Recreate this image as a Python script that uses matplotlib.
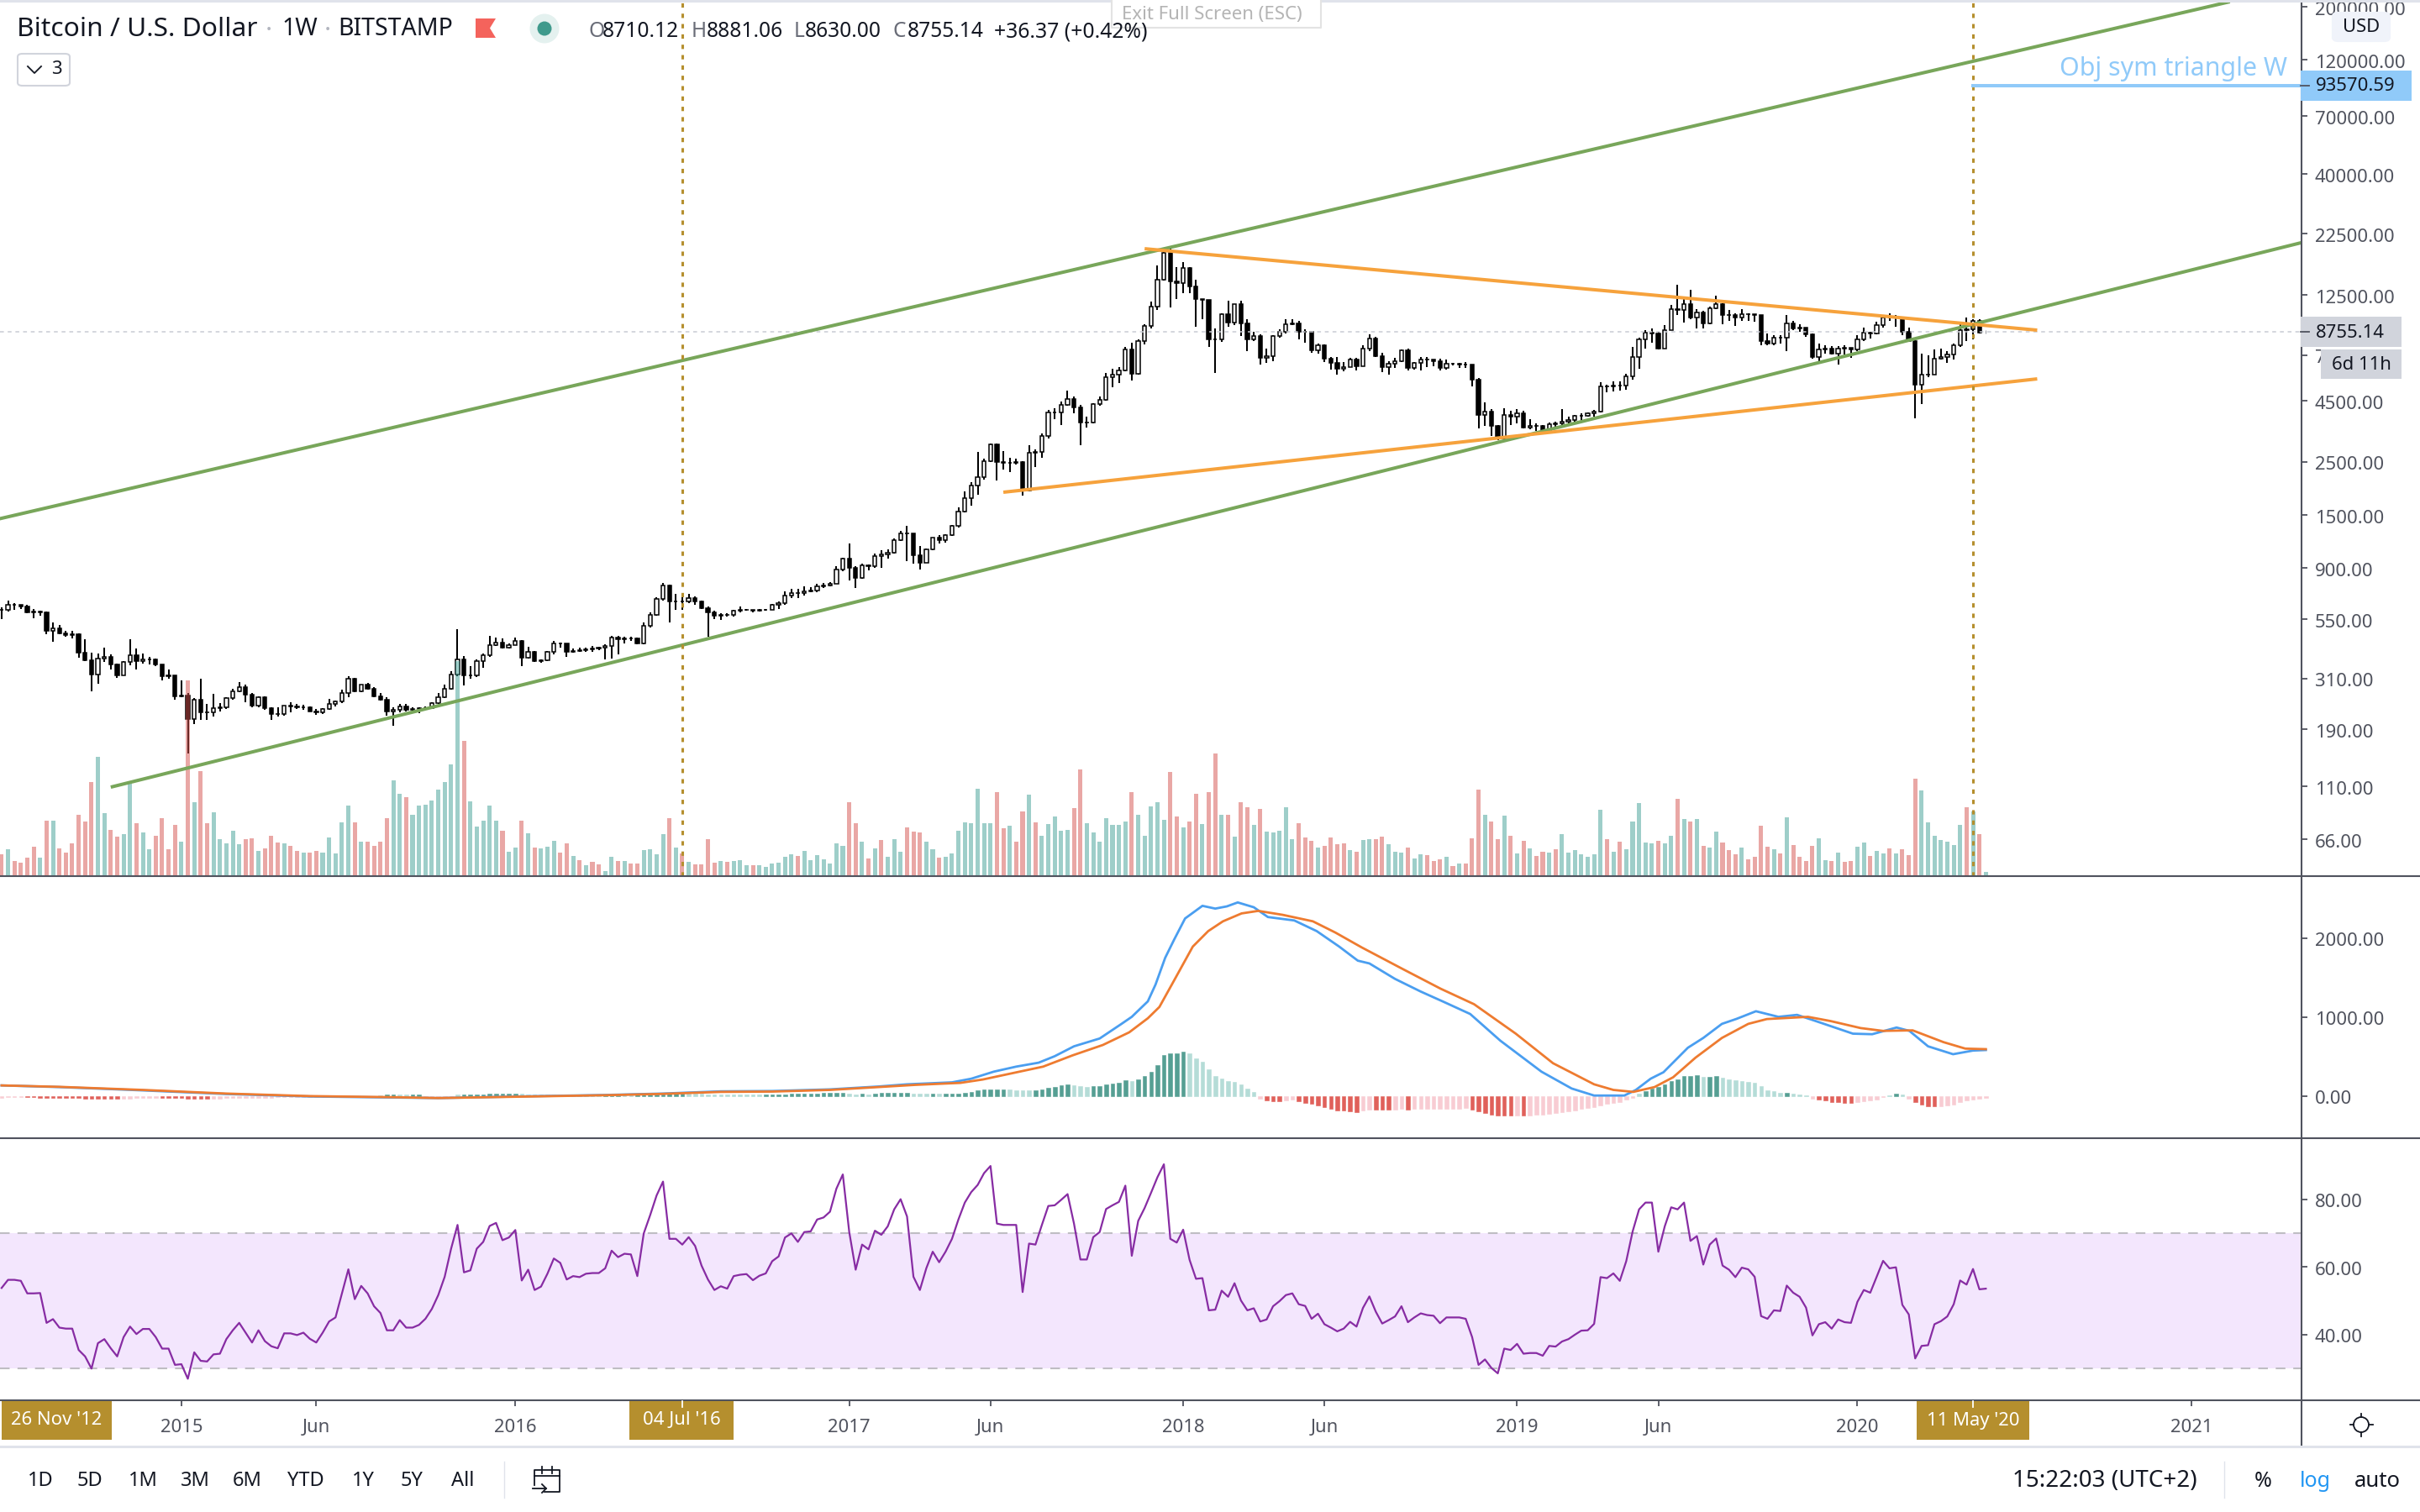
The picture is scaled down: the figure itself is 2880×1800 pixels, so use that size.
import numpy as np
import pandas as pd
import matplotlib
matplotlib.use('Agg')
import matplotlib.pyplot as plt
from matplotlib.lines import Line2D
from matplotlib.patches import Rectangle, FancyBboxPatch, Polygon, Circle
from matplotlib.ticker import FixedLocator, FixedFormatter, NullLocator
from matplotlib.transforms import ScaledTranslation

plt.rcParams['font.family'] = ['Noto Sans', 'DejaVu Sans']

W, H = 2880, 1800

# Weekly bars, first one is the week of 23 Jun 2014
start = pd.Timestamp('2014-06-23')

closes = [
    600,630,630,624,586,590,586,493,502,480, 472,475,398,371,322,375,384,356,319,363,
    389,366,373,374,356,318,319,262,264,211, 254,225,225,234,235,257,274,285,266,239,
    259,234,221,221,239,237,236,236,227,224, 231,243,249,270,311,274,293,281,262,254,
    227,230,238,229,232,233,234,245,260,281, 324,373,319,320,368,389,430,439,419,427,
    447,379,400,366,369,403,437,436,403,406, 408,410,416,418,424,461,453,457,457,435,
    515,571,670,758,654,652,655,672,650,613, 586,567,574,575,597,604,600,597,600,604,
    633,640,690,705,705,721,727,756,762,771, 885,987,903,818,927,920,1007,1023,1046,1174,
    1260,1260,1015,950,1077,1202,1174,1235,1347,1552, 1772,2000,2165,2525,2955,2494,2484,2484,2504,1902,
    2730,2761,3205,4040,4040,4335,4599,4218,3663,3663, 4370,4565,5660,5820,6053,7366,5865,8030,9250,11210,
    14470,18670,14200,13990,16148,13540,12030,11885,8120,8120, 10360,9580,11400,9510,8120,8380,6810,6945,8380,8770,
    9395,9510,8790,8770,7310,7720,6760,6500,6125,6245, 6680,6295,7425,8220,6945,6245,6420,6600,7310,6175,
    6500,6680,6680,6600,6175,6420,6420,6400,6400,5530, 3931,4060,3535,3130,3931,3855,4010,3494,3535,3535,
    3360,3605,3634,3690,3750,3885,3885,3985,4060,5174, 5174,5235,5215,5705,6880,8120,8690,8618,7450,8890,
    10906,10820,11430,10083,10570,9510,10990,11400,10290,10290, 10083,10400,10360,10290,8030,7810,8286,8286,9510,9035,
    9140,8520,6845,7366,7425,7082,7450,7520,7366,8120, 8690,8618,9321,10083,10083,10083,8770,8030,5270,5820,
    5820,6760,6845,7030,7720,8890,8963,9694,8719,8755.14,
]

highs = [
    615,658,641,633,633,606,598,593,534,520, 492,492,480,455,398,396,419,391,359,366,
    455,414,395,381,377,356,338,318,305,271, 257,309,244,268,246,259,281,299,294,271,
    261,261,235,235,240,247,243,241,238,232, 234,256,252,278,318,312,294,297,285,270,
    259,236,243,243,235,235,238,247,270,294, 333,498,386,349,372,395,467,459,457,435,
    459,451,421,405,373,405,445,438,436,414, 418,419,425,421,433,467,470,465,465,459,
    534,589,680,781,768,699,685,699,685,660, 621,597,581,581,600,621,607,600,607,609,
    638,652,718,738,735,756,747,771,777,786, 913,995,1142,920,938,931,1035,1068,1077,1197,
    1285,1347,1260,1111,1090,1211,1235,1245,1358,1613, 1880,2058,2761,2579,2986,2986,2783,2595,2585,2525,
    2930,2815,3295,4120,4210,4458,4975,4690,4335,3855, 4405,4690,5885,6125,6245,7600,7905,8160,9435,11705,
    16660,19470,19660,16340,17120,16280,14470,11960,11920,9070, 10486,11797,11480,11797,9885,8790,8520,7450,8450,8963,
    9885,9885,9694,8963,8618,7810,7780,6880,6845,6548, 6810,6810,7720,8520,8350,7140,6600,6810,7366,7425,
    6548,6845,6845,6655,6740,6680,6475,6475,6548,6400, 5596,4422,4170,3565,4210,4088,4170,4088,3780,3634,
    3565,3660,3675,4170,3855,3931,4010,4040,4120,5381, 5270,5425,5425,5865,7570,8286,8890,9035,8790,9321,
    11343,13802,12030,13120,10906,10700,11170,12370,11570,10820, 10486,10906,10486,10400,10083,8618,8450,8450,10290,9770,
    9395,9140,8618,7810,7720,7660,7660,7720,7425,8450, 9140,8790,9620,10290,10486,10290,10083,9140,8120,7082,
    7010,7366,7425,7280,7810,9510,10083,9885,9885,8881.06,
]

lows = [
    552,590,602,606,583,555,570,476,441,476, 463,457,379,366,274,295,363,340,313,319,
    354,340,359,357,351,305,309,254,260,151, 201,209,209,215,227,232,253,272,247,235,
    235,230,209,215,217,225,232,230,226,219, 221,230,237,246,260,272,272,278,259,252,
    218,197,224,227,222,222,231,235,243,258, 278,318,291,309,315,345,384,424,416,414,
    427,349,377,363,362,368,391,419,382,398, 400,402,402,408,373,377,391,436,445,433,
    433,506,567,656,534,600,600,640,632,607, 463,552,548,563,563,588,595,588,591,597,
    604,609,633,672,672,690,712,712,741,756, 771,875,802,741,809,878,903,903,987,1035,
    1165,965,938,885,950,1069,1138,1151,1226,1331, 1533,1638,1829,2115,2504,2098,2315,2269,2435,1815,
    1885,2390,2605,3140,3780,3580,4285,4010,2950,3494, 3634,4303,4510,5115,5340,6005,5490,5820,7750,9035,
    10820,14355,11120,12030,12760,12760,9210,9880,7570,5885, 7967,9210,9321,8380,7280,8030,6370,6475,6625,8286,
    8618,9321,8120,7900,7170,7082,6548,6100,5775,6005, 6220,6053,6295,7280,6845,5935,5820,6175,6548,6053,
    6100,6053,6245,6295,6053,6100,6345,6195,6195,5174, 3450,3535,3205,3080,3106,3565,3634,3450,3425,3385,
    3295,3310,3470,3565,3634,3660,3735,3855,3855,4040, 4880,4935,4975,5025,5530,6125,7450,7900,7366,7425,
    8890,10290,9580,9885,9035,9035,9395,10906,9435,9694, 9250,9694,9770,9620,7720,7720,7720,7810,7280,8890,
    8770,8350,6740,6500,7082,7030,6370,7030,6810,7280, 8030,8220,8520,9140,9694,9210,8450,7967,3810,4385,
    5660,5820,6680,6500,6680,7600,8030,8120,8618,8630,
]

# Open of the running bar from the header, the rest open at the previous close
last_open = 8710.12

volume = [
    79,97,55,49,67,106,67,199,199,100, 85,118,220,196,337,427,226,166,142,151,
    330,190,157,97,145,208,97,184,124,700, 265,376,190,229,133,118,163,115,133,136,
    91,100,145,121,118,109,91,85,85,91, 85,139,82,193,253,193,124,124,109,124,
    208,343,295,283,220,253,256,271,310,337, 400,767,484,268,178,199,253,199,163,88,
    103,199,154,103,100,106,127,85,118,73, 58,40,52,43,19,70,55,55,46,46,
    94,97,79,151,208,102,81,52,41,41, 132,48,54,51,54,57,39,39,39,33,
    46,49,70,78,73,90,57,76,60,45, 118,108,265,189,124,62,99,129,70,132,
    87,174,158,156,124,96,67,70,81,161, 192,189,313,189,189,300,172,180,124,231,
    291,192,144,186,214,161,166,243,381,189, 156,124,206,183,183,195,300,220,144,249,
    265,201,372,214,174,195,294,186,300,438, 220,220,141,265,246,183,240,158,156,161,
    246,132,189,138,125,102,108,138,113,118, 93,87,129,132,132,141,113,87,84,102,
    62,78,76,54,60,70,36,45,45,135, 310,220,195,132,217,144,81,126,99,73,
    87,84,96,150,84,93,78,70,78,237, 132,87,124,96,195,262,121,118,126,118,
    144,276,204,195,204,108,102,158,121,93, 78,102,60,70,180,105,96,81,209,110,
    70,54,108,135,57,54,84,51,54,105, 121,73,90,81,99,81,96,76,348,307,
    192,144,129,124,110,183,246,231,150,15,
]

# g / r colour of each volume bar
volume_dir = (
    'rgrrrrgrgr' 'rrrrrggrrg' 'grggrrrrgr' 'grrgggggrr' 'grrrgrrgrr' 'gggggrgrrr'
    'rggrgggggg' 'ggrgggggrg' 'grgrgggrrg' 'rgrrggrgrr' 'ggggrgrgrr' 'rrgrgggrgg'
    'ggggrggggg' 'ggrrgrgrgg' 'grrrggrggg' 'gggggrrgrr' 'grgggggrrg' 'ggggggrggg'
    'ggrrgrrgrr' 'grgrrgrggg' 'ggrrrgrrrr' 'grggrrgggr' 'ggrrrgrgrr' 'rgrrgrgrgr'
    'rgrggggggg' 'rgrgggggrg' 'grgrgrggrr' 'rgrrrrgrgr' 'rrrggrgrrg' 'grggrgrrrg'
    'ggggggrgrg'
)

# MACD pane, read at the bends of each line
macd_bar = [0,9,22,35,48,61,68,81,94,103,112,120,129,136.5,141,148,151,154.5,158,161.5,164,167,171,174.4,176,
            178.5,179.7,181.2,182.6,184.3,187,189,190.8,192.5,195,197.2,201.3,204.8,208.3,211.2,213,217,221,
            224.7,228.7,233.4,239.8,244.5,248,252.7,254.5,256.8,258.8,262.6,265,267.9,270.2,273.2,276.7,279.6,
            282.5,288.3,291.3,295.1,297.1,300,303.9,307,309]
macd_val = [135,114,72,26,-5,-18,-25,-4,14,32,60,64,85,121,149,174,220,309,373,423,505,630,729,914,1003,
            1199,1412,1750,1981,2248,2408,2373,2401,2451,2390,2266,2223,2088,1892,1714,1679,1483,1323,
            1188,1039,701,309,96,7,7,78,220,302,612,736,914,978,1074,1003,1028,
            950,790,783,868,825,630,530,576,583]
signal_bar = [0,9,22,35,48,61,68,81,94,103,112,120,129,136.5,142.3,149.3,152.8,162.2,166.8,171.5,175.6,178.5,
              180.3,182.6,185.5,187.9,190.2,193.1,195.7,199.5,204.2,207.7,211.8,218.2,224.1,229.3,235.8,241.6,
              248,251,254.1,257.4,260.3,263.8,267.9,272,274.9,281.3,284.8,289.5,293,297.6,302.4,305.8,309]
signal_val = [135,117,78,32,0,-14,-25,-7,11,28,53,57,78,114,142,167,210,373,516,647,807,985,
              1128,1465,1892,2088,2212,2312,2344,2294,2212,2070,1882,1608,1359,1163,790,416,
              149,78,53,114,238,487,736,914,975,1003,950,861,825,832,683,601,594]

hist_early = [
    -18,-17,-16,-15,-16,-17,-18,-19,-20,-21, -22,-26,-28,-30,-31,-32,-33,-34,-35,-33,
    -31,-28,-25,-22,-20,-22,-24,-26,-28,-30, -31,-32,-33,-31,-29,-27,-25,-23,-22,-21,
    -20,-19,-18,-17,-16,-16,-15,-15,-14,-14, -13,-13,-12,-12,-11,-11,-10,-10,-9,14,
    18,22,20,18,20,22,-18,-17,-16,-15, -14,16,18,20,22,24,26,28,29,30,
    31,26,24,22,20,18,17,16,15,15, 14,14,13,13,15,17,19,17,15,18,
    20,22,24,26,28,30,34,30,28,26, 24,22,21,20,19,18,17,16,15,18,
    20,22,24,26,28,30,32,34,36,38, 40,
]
# the later histogram was read in zoomed pixels, 1 pixel is 3.557 on the scale
hist_late = [
    12,9,7,8,6,10,10.2,10.4,10.6, 10.8,11,9,8.5,8,9,8,9,9.2,9.4, 12,16,20,23,24,24.5,25,23,22,20,
    20,20.5,24,30,33,37,40,38,35,32, 35,36,41,44,48,57,52,59,71,87,
    111,147,151,152,159,152,135,122,96,71, 62,53,49,41,27,15,-8,-14,-17,-18,
    -15,-12,-18,-24,-28,-32,-38,-46,-50,-52, -55,-56,-50,-47,-47.5,-48,-49,-47,-46,-47,
    -46,-45,-45,-45,-45,-44,-44,-44,-43,-48, -55,-60,-65,-69,-70,-70.5,-69,-70,-69,-67,
    -65,-63,-60,-57,-54,-50,-46,-43,-39,-33, -28,-24,-20,-13,-5,10,17,26,33,40,
    52,60,72,72.5,73,69,69.5,72,65,60, 56,52,50,47,35,22,17,11,11.5,8,
    7,3,-10,-12,-16,-22,-22.5,-25,-25.5,-21, -18,-15,-11,-3,4,8,5,-8,-22,-30,
    -36,-37,-35,-33,-29,-22,-15,-11,-9,-7,
]

rsi = [
    53.8,56.2,56.2,55.9,52.2,52.2,52.3,43.5,44.6,42.1, 41.8,41.8,35.5,33.6,30.0,37.5,38.7,36.0,33.6,39.3,
    42.4,40.2,41.7,41.7,39.3,35.9,35.9,31.1,31.3,27.0, 34.8,32.3,32.1,34.2,34.4,38.7,41.3,43.5,40.6,37.7,
    41.3,38.1,36.6,36.0,40.4,40.4,39.9,40.6,38.8,37.7, 40.6,43.9,45.1,52.2,59.3,50.5,54.4,52.2,48.4,46.4,
    41.3,41.3,44.3,42.1,42.1,42.9,44.7,47.6,51.7,57.1, 65.4,72.4,58.4,59.0,65.4,67.4,72.1,73.0,67.9,68.7,
    70.9,56.0,59.2,53.2,54.2,58.0,62.5,61.2,56.3,57.3, 57.0,58.0,58.2,58.2,59.6,64.8,62.9,63.9,63.7,57.3,
    69.9,75.3,81.1,85.2,68.3,68.3,66.6,68.8,66.2,60.4, 56.3,53.2,54.3,53.6,57.3,57.7,57.9,56.1,57.4,58.1,
    61.7,63.1,68.7,69.9,67.4,70.3,70.5,74.0,74.6,76.3, 83.1,87.3,70.3,59.2,66.6,65.2,70.7,69.5,72.0,77.0,
    80.0,74.9,57.1,53.2,59.6,64.5,61.4,64.5,68.3,74.0, 79.0,82.1,84.2,87.7,89.8,72.8,72.4,72.4,72.4,52.6,
    66.9,66.6,72.4,78.0,78.2,79.8,81.5,72.8,62.2,62.2, 68.8,70.3,77.1,78.2,79.2,84.0,63.3,73.6,77.4,81.9,
    86.5,90.3,68.3,67.2,71.0,62.1,56.5,56.7,47.2,47.4, 53.0,51.2,55.2,50.1,47.2,47.8,43.9,44.5,48.4,49.9,
    51.7,52.2,49.0,48.5,44.7,46.2,43.1,42.1,41.0,41.8, 43.8,42.4,47.9,51.3,46.8,43.3,44.3,45.4,48.4,43.7,
    45.1,46.3,45.8,45.6,43.4,45.1,45.1,45.1,44.7,39.3, 31.1,32.7,30.2,28.6,35.9,35.5,37.3,34.4,34.6,34.6,
    33.8,36.7,36.5,38.0,38.7,40.0,41.2,41.3,43.2,57.0, 56.7,58.1,55.9,61.7,70.5,77.0,79.0,79.0,64.5,72.0,
    77.6,77.0,79.0,67.7,69.1,60.7,66.6,68.4,60.4,59.2, 57.0,59.8,59.3,57.1,45.5,44.7,47.2,47.0,54.5,52.4,
    51.2,48.0,39.8,43.1,43.7,41.8,44.5,43.7,43.5,49.7, 53.2,52.4,57.1,61.8,59.6,59.9,48.8,46.0,33.0,36.7,
    36.9,43.1,44.0,45.4,49.0,56.0,54.8,59.4,53.4,53.6,
]

price_ticks = [200000,120000,70000,40000,22500,12500,7000,4500,2500,1500,900,550,310,190,110,66]
macd_ticks = [2000,1000,0]
rsi_ticks = [80,60,40]
time_tick_dates = ['2015-01-05','2015-06-01','2016-01-04','2017-01-02','2017-06-05','2018-01-01',
                   '2018-06-04','2018-12-31','2019-06-03','2020-01-06','2021-01-04']
time_tick_labels = ['2015','Jun','2016','2017','Jun','2018','Jun','2019','Jun','2020','2021']

# Drawings: (date, price) ends
green_upper = (('2014-06-16', 1433), ('2021-02-15', 210500))
green_lower = (('2014-10-20', 109.1), ('2021-05-17', 21270))
orange_upper = (('2017-11-20', 19500), ('2020-07-20', 8900))
orange_lower = (('2017-06-19', 1868), ('2020-07-20', 5566))
target_price = 93570.59
last_price = 8755.14
mark_dates = ['2016-07-04', '2020-05-11']

INK = '#131722'
AXIS = '#50535e'
GOLD = '#b58f2e'
TEAL = '#3f9f95'
RED = '#d5514d'
TICK_SIZE = 15.9


def to_bar(day):
    return (pd.Timestamp(day) - start).days / 7


def pane(y0, y1):
    return fig.add_axes([0, 1 - y1 / H, 2738 / W, (y1 - y0) / H])


def label(x, y, s, size=TICK_SIZE, color=INK, ha='center', **kw):
    fig.text(x / W, 1 - y / H, s, fontsize=size, color=color, ha=ha, va='center', zorder=8, **kw)


def box(x0, y0, x1, y1, color):
    fig.add_artist(Rectangle((x0 / W, 1 - y1 / H), (x1 - x0) / W, (y1 - y0) / H, facecolor=color,
                             edgecolor='none', transform=fig.transFigure, zorder=6))


def rule(xs, ys, color=AXIS, lw=1.5, z=5):
    fig.add_artist(Line2D([x / W for x in xs], [1 - y / H for y in ys], color=color, lw=lw,
                          transform=fig.transFigure, zorder=z))


fig = plt.figure(figsize=(W / 100, H / 100), dpi=100, facecolor='white')

ax_price = pane(0, 1043)
ax_vol = ax_price.twinx()
ax_draw = ax_price.twinx()
ax_macd = pane(1043, 1355)
ax_rsi = pane(1355, 1667)

x = np.arange(len(closes))
c = np.array(closes, dtype=float)
o = np.r_[c[0], c[:-1]]
o[-1] = last_open
h = np.array(highs, dtype=float)
l = np.array(lows, dtype=float)
up = c >= o

# Candles, the running bar is only a faint mark
ax_price.vlines(x[:-1], l[:-1], h[:-1], color='black', lw=1.45, zorder=2)
ax_price.bar(x[:-1], np.abs(c - o)[:-1], bottom=np.minimum(o, c)[:-1], width=0.56,
             color=np.where(up, 'white', 'black')[:-1], edgecolor='black', linewidth=1.1, zorder=3)
ax_price.vlines(x[-1:], l[-1:], h[-1:], color='#9a9ca3', lw=0.8, zorder=2)
ax_price.set_yscale('log')

# Volume on top of the candles
vol_colors = [TEAL if d == 'g' else RED for d in volume_dir]
ax_vol.bar(x, volume, width=0.66, color=vol_colors, alpha=0.5, linewidth=0)
ax_vol.set_ylim(0, 3129)
ax_vol.set_yticks([])

# Trend lines and marks
ax_draw.set_yscale('log')
for ends, color in [(green_upper, '#78a65a'), (green_lower, '#78a65a'),
                    (orange_upper, '#f6a23c'), (orange_lower, '#f6a23c')]:
    ax_draw.plot([to_bar(ends[0][0]), to_bar(ends[1][0])], [ends[0][1], ends[1][1]],
                 color=color, lw=2.9, solid_capstyle='butt')
for day in mark_dates:
    ax_draw.axvline(to_bar(day), color=GOLD, lw=2.2, linestyle=(0, (1.7, 2.33)))
ax_draw.axhline(last_price, color='#c9cbd3', lw=1.1, linestyle=(0, (3, 3)), zorder=1)
ax_draw.plot([to_bar(mark_dates[1]), 360], [target_price, target_price], color='#90caf9', lw=2.9)

for a in (ax_price, ax_draw):
    a.set_ylim(46.3, 214000)
    a.yaxis.set_minor_locator(NullLocator())
ax_draw.yaxis.set_major_locator(NullLocator())

ax_price.yaxis.tick_right()
ax_price.yaxis.set_major_locator(FixedLocator(price_ticks))
ax_price.yaxis.set_major_formatter(FixedFormatter(['%.2f' % t for t in price_ticks]))

# MACD
hist = np.array(hist_early + [v * 3.557 for v in hist_late])
hist_x = np.arange(len(hist))
hist_colors = []
for i, v in enumerate(hist):
    growing = i > 0 and abs(v) > abs(hist[i - 1]) and v * hist[i - 1] > 0
    if v >= 0:
        hist_colors.append('#559f93' if growing else '#b5dcd7')
    else:
        hist_colors.append('#e0605a' if growing else '#f8ccd3')
ax_macd.bar(hist_x, hist, width=0.6, color=hist_colors, edgecolor=hist_colors, linewidth=0.4)
ax_macd.plot(macd_bar, macd_val, color='#4a9ef0', lw=2.0)
ax_macd.plot(signal_bar, signal_val, color='#ee7b30', lw=2.0)
ax_macd.set_ylim(-533, 2784)
ax_macd.yaxis.tick_right()
ax_macd.set_yticks(macd_ticks)
ax_macd.set_yticklabels(['%.2f' % t for t in macd_ticks])

# RSI
ax_rsi.axhspan(30, 70, color='#f3e6fd', linewidth=0, zorder=0)
for level in (70, 30):
    ax_rsi.axhline(level, color='#bfbdc3', lw=1.5, linestyle=(0, (5.5, 4.5)), zorder=1)
ax_rsi.plot(x, rsi, color='#872ca3', lw=1.6, zorder=2)
ax_rsi.set_ylim(20.65, 98)
ax_rsi.yaxis.tick_right()
ax_rsi.set_yticks(rsi_ticks)
ax_rsi.set_yticklabels(['%.2f' % t for t in rsi_ticks])

for a in (ax_price, ax_vol, ax_draw, ax_macd, ax_rsi):
    a.set_xlim(-0.25, 358.03)
    for s in a.spines.values():
        s.set_visible(False)
    a.patch.set_alpha(0)
    a.tick_params(axis='x', which='both', bottom=False, labelbottom=False)
# tick labels sit a touch under their tick
nudge = ScaledTranslation(0, -1.5 / 100, fig.dpi_scale_trans)
for a in (ax_price, ax_macd, ax_rsi):
    a.tick_params(axis='y', which='major', length=6, width=1.3, color=AXIS, labelcolor=AXIS,
                  labelsize=TICK_SIZE, pad=6)
    for t in a.yaxis.get_major_ticks():
        t.label2.set_transform(t.label2.get_transform() + nudge)
ax_vol.tick_params(axis='y', length=0)

ax_rsi.set_xticks([to_bar(d) for d in time_tick_dates])
ax_rsi.set_xticklabels(time_tick_labels)
ax_rsi.tick_params(axis='x', bottom=True, labelbottom=True, length=5, width=1.3, color=AXIS,
                   labelcolor=AXIS, labelsize=TICK_SIZE, pad=11)
for t, s in zip(ax_rsi.get_xticklabels(), time_tick_labels):
    if s != 'Jun':
        t.set_fontweight('semibold')

# Pane frames
rule([0, W], [1043, 1043], lw=1.5)
rule([0, W], [1355, 1355], lw=1.5)
rule([0, W], [1667, 1667], lw=1.5)
rule([2738.5, 2738.5], [0, 1722], lw=1.5)
rule([0, W], [1722, 1722], color='#e0e3eb', lw=2.2)
rule([0, W], [1, 1], color='#e0e3eb', lw=2.2)
rule([600, 600], [1740, 1783], color='#e0e3eb', lw=1)
rule([2647, 2647], [1740, 1783], color='#e0e3eb', lw=1)

# Date labels on the time axis
for x0, x1, s in [(2, 133, "26 Nov '12"), (749, 873, "04 Jul '16"), (2281, 2415, "11 May '20")]:
    box(x0, 1668, x1, 1714, GOLD)
    label((x0 + x1) / 2, 1691, s, color='white')
rule([812, 812], [1668, 1675], color='white', lw=1.3, z=7)
rule([2348, 2348], [1668, 1675], color='white', lw=1.3, z=7)

# Price labels
box(2738, 84, 2870, 120, '#90caf9')
label(2756, 103, '93570.59', ha='left')
box(2738, 377, 2858, 413, '#d1d4dc')
label(2756, 396, '8755.14', ha='left')
box(2762, 416, 2858, 451, '#d1d4dc')
label(2810, 435, '6d 11h')
rule([2738, 2748], [102, 102], lw=1.3, z=7)
rule([2738, 2748], [395, 395], lw=1.3, z=7)
fig.add_artist(FancyBboxPatch((2777 / W, 1 - 48 / H), 66 / W, 32 / H, boxstyle='round,pad=0,rounding_size=0.002',
                              facecolor='#f0f3fa', edgecolor='#f0f3fa', lw=3, transform=fig.transFigure, zorder=6))
label(2810, 32, 'USD')
label(2722, 82, 'Obj sym triangle W', size=21.8, color='#90caf9', ha='right')

# Header
label(20, 35, 'Bitcoin / U.S. Dollar', size=22.8, ha='left')
label(320, 37, '·', size=22, color='#b2b5be')
label(335, 35, '1W', size=20.5, ha='left')
label(390, 37, '·', size=22, color='#b2b5be')
label(402, 35, 'BITSTAMP', size=20.5, ha='left')
fig.add_artist(Polygon([(566 / W, 1 - 22 / H), (590 / W, 1 - 22 / H), (583 / W, 1 - 33.5 / H), (590 / W, 1 - 45 / H),
                        (566 / W, 1 - 45 / H)], closed=True, facecolor='#f4635c', edgecolor='none',
                       transform=fig.transFigure, zorder=6))
halo = fig.add_axes([(648 - 18) / W, 1 - (34 + 18) / H, 36 / W, 36 / H])
halo.set_xlim(-18, 18)
halo.set_ylim(-18, 18)
halo.axis('off')
halo.add_patch(Circle((0, 0), 17.5, color='#e4f1ef', lw=0))
halo.add_patch(Circle((0, 0), 8.5, color='#3f9a8c', lw=0))

# Full screen hint, sits under the values
box(1323, 0, 1572, 33, '#ffffff')
rule([1323, 1323, 1572, 1572], [0, 33, 33, 0], color='#e3e3e3', lw=1.5, z=7)
label(1442, 17, 'Exit Full Screen (ESC)', size=16, color='#b4b4b4')

for letter, xl, value, xv in [('O', 700, '8710.12', 717), ('H', 823, '8881.06', 841),
                              ('L', 945, '8630.00', 958), ('C', 1063, '8755.14', 1080)]:
    label(xl, 38, letter, size=17.7, color='#6a6d78', ha='left')
    label(xv, 38, value, size=17.7, ha='left')
label(1183, 38, '+36.37 (+0.42%)', size=17.8, ha='left')

fig.add_artist(FancyBboxPatch((21 / W, 1 - 102 / H), 62 / W, 38 / H, boxstyle='round,pad=0,rounding_size=0.002',
                              facecolor='white', edgecolor='#d1d4dc', lw=1.5, transform=fig.transFigure, zorder=6))
rule([33, 41, 49], [79, 87, 79], color=INK, lw=1.3, z=7)
label(67, 82, '3', size=16)

# Bottom bar
for cx, s in [(48, '1D'), (107, '5D'), (170, '1M'), (232, '3M'), (294, '6M'), (364, 'YTD'),
              (432, '1Y'), (490, '5Y'), (551, 'All')]:
    label(cx, 1763, s, size=17)
label(2505, 1763, '15:22:03 (UTC+2)', size=20)
label(2693, 1763, '%', size=18)
label(2755, 1763, 'log', size=18, color='#2196f3')
label(2829, 1763, 'auto', size=18.5)

# Calendar icon
rule([636, 636, 666, 666, 648], [1768, 1750, 1750, 1776, 1776], color=INK, lw=1.3)
rule([636, 666], [1757, 1757], color=INK, lw=1.3)
rule([645, 645], [1746, 1754], color=INK, lw=1.3)
rule([657, 657], [1746, 1754], color=INK, lw=1.3)
rule([634, 650, 645], [1772, 1772, 1767], color=INK, lw=1.3)
rule([650, 645], [1772, 1777], color=INK, lw=1.3)

# Settings icon
gear = fig.add_axes([(2810 - 20) / W, 1 - (1696 + 20) / H, 40 / W, 40 / H])
gear.set_xlim(-20, 20)
gear.set_ylim(-20, 20)
gear.axis('off')
gear.add_patch(Circle((0, 0), 9, facecolor='white', edgecolor=INK, lw=1.3))
for a in np.radians(np.arange(0, 360, 90)):
    gear.plot([9 * np.cos(a), 13.5 * np.cos(a)], [9 * np.sin(a), 13.5 * np.sin(a)], color=INK, lw=1.3)

fig.savefig('out.png', dpi=100)
